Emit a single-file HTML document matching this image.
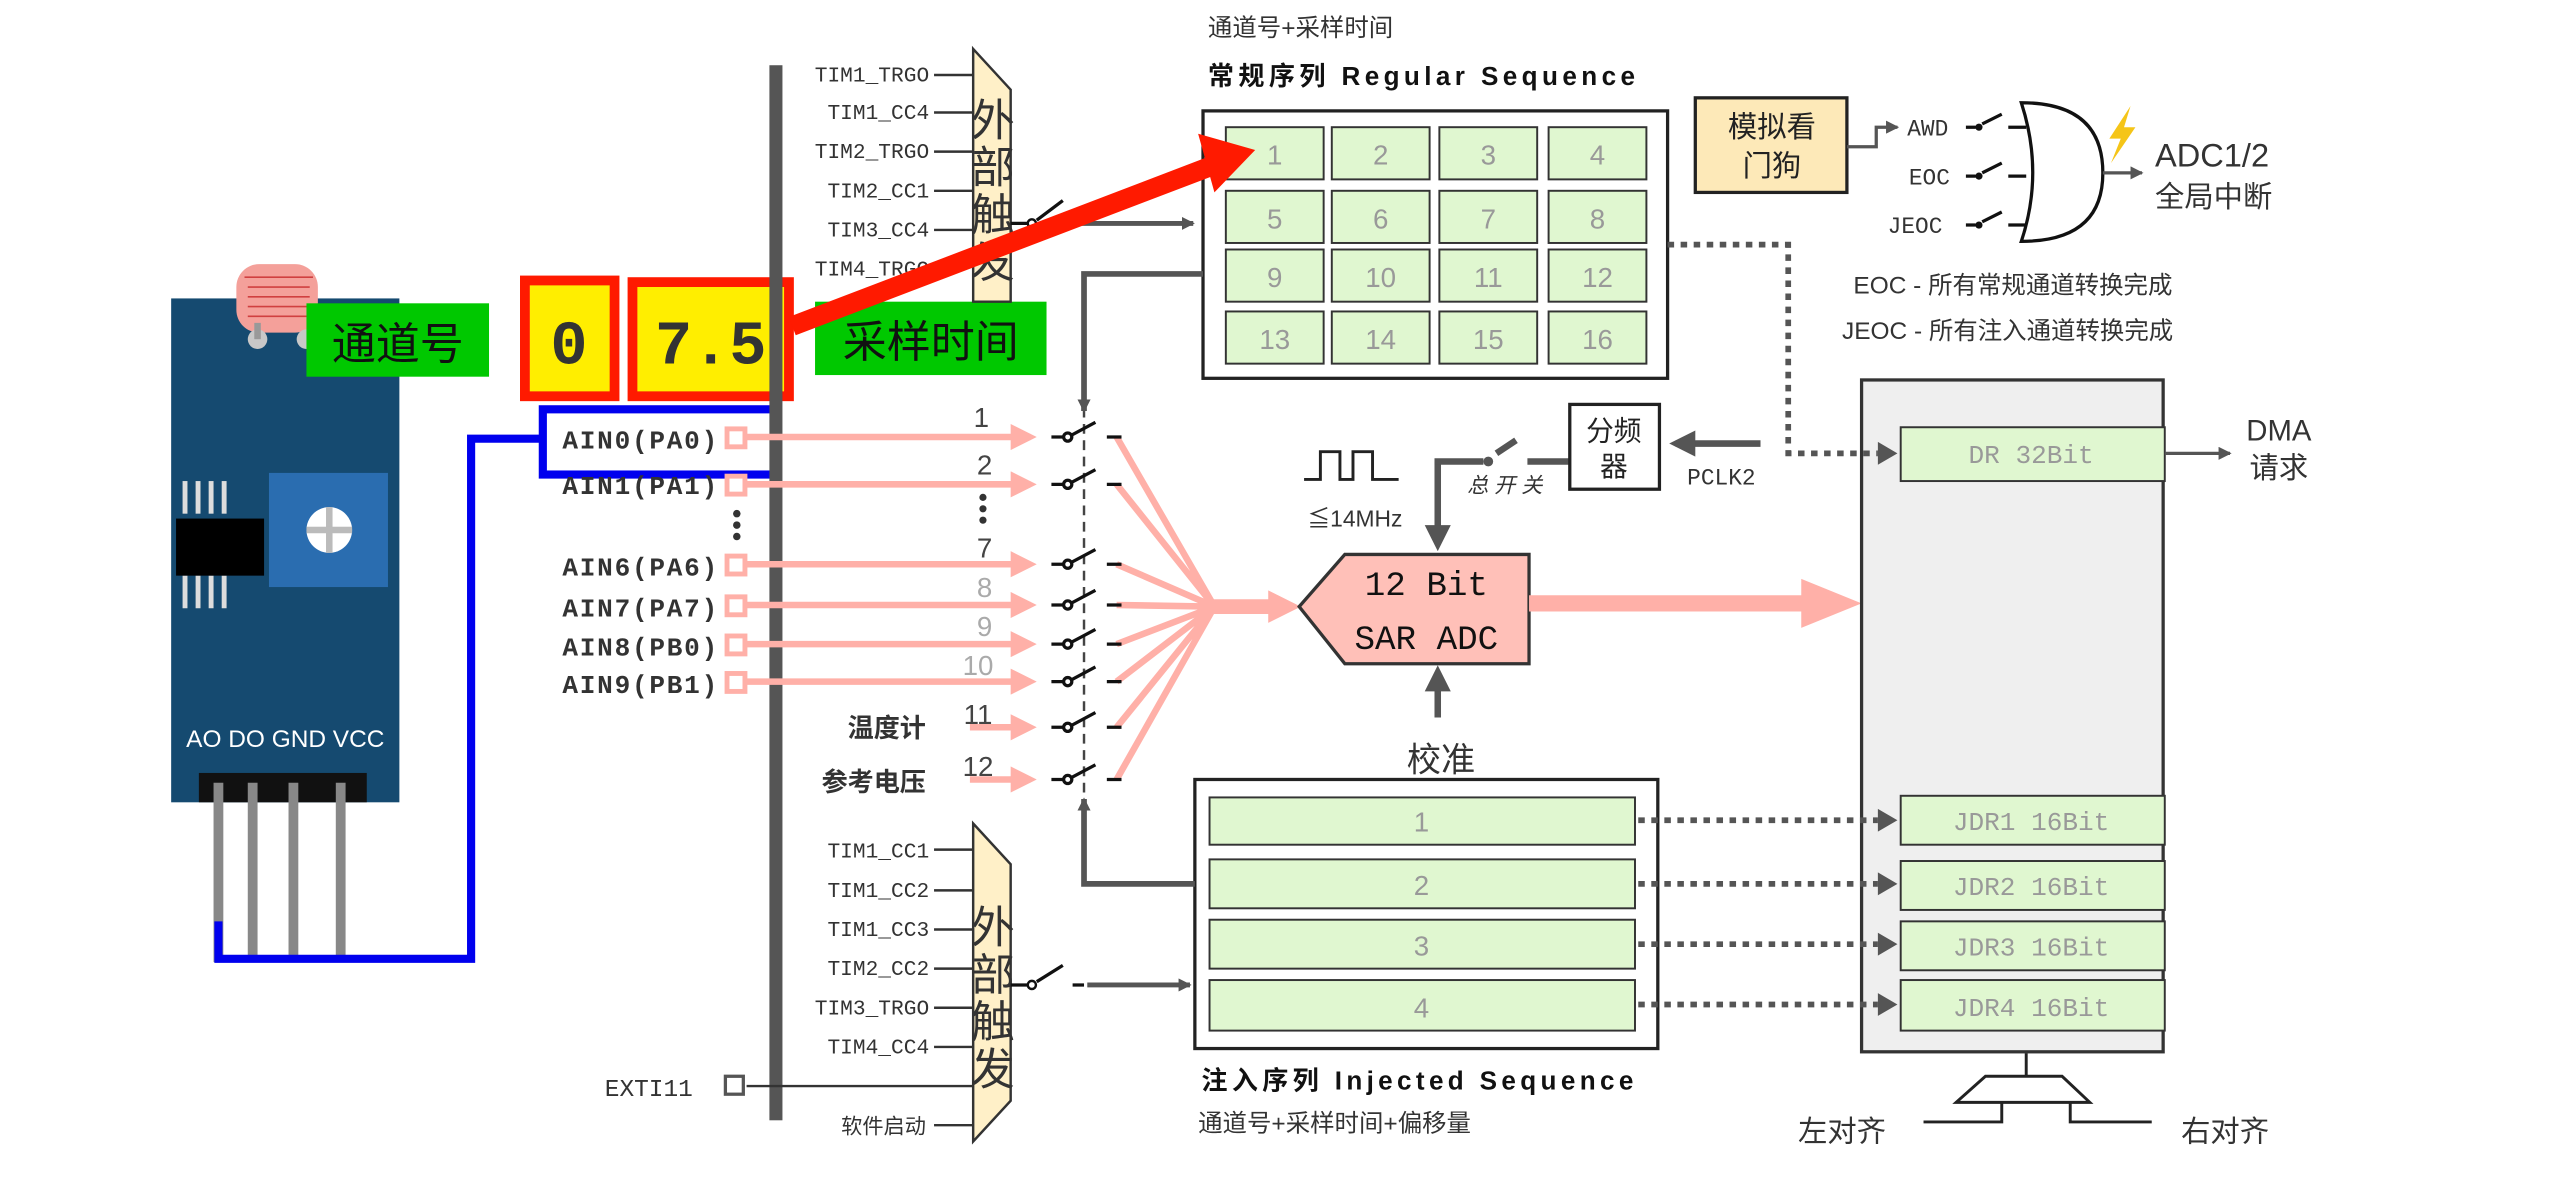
<!DOCTYPE html>
<html><head><meta charset="utf-8"><style>
html,body{margin:0;padding:0;background:#fff;}
svg{display:block;}
text{font-family:"Liberation Sans","Noto Sans CJK SC",sans-serif;}
.m, .m text{font-family:"Liberation Mono","Noto Sans CJK SC",monospace;}
</style></head><body>
<svg width="2556" height="1179" viewBox="0 0 1568 723" preserveAspectRatio="none" xmlns="http://www.w3.org/2000/svg">
<defs>
<marker id="ag" markerWidth="4" markerHeight="4" refX="3" refY="2" orient="auto" markerUnits="strokeWidth"><path d="M0,0L4,2L0,4z" fill="#555"/></marker>
<marker id="ag2" markerWidth="8" markerHeight="8" refX="7" refY="4" orient="auto" markerUnits="userSpaceOnUse"><path d="M0,0L8,4L0,8z" fill="#555"/></marker>
<marker id="ap" markerWidth="4" markerHeight="4" refX="3" refY="2" orient="auto" markerUnits="strokeWidth"><path d="M0,0L4,2L0,4z" fill="#ffb0a8"/></marker>
</defs>

<!-- sensor module -->
<rect x="105" y="183" width="140" height="309" fill="#154a70"/>
<rect x="145" y="162" width="50" height="42" rx="14" fill="#f4a09a"/>
<g stroke="#d04040" stroke-width="1" fill="none"><path d="M150,170h42M152,176h38M152,182h38M152,188h38M152,194h38"/></g>
<circle cx="158" cy="208" r="6" fill="#c8c8c8"/><rect x="156" y="198" width="4" height="10" fill="#999"/>
<circle cx="188" cy="208" r="6" fill="#c8c8c8"/>
<g fill="#ddd"><rect x="112" y="295" width="3" height="20"/><rect x="120" y="295" width="3" height="20"/><rect x="128" y="295" width="3" height="20"/><rect x="136" y="295" width="3" height="20"/>
<rect x="112" y="353" width="3" height="20"/><rect x="120" y="353" width="3" height="20"/><rect x="128" y="353" width="3" height="20"/><rect x="136" y="353" width="3" height="20"/></g>
<rect x="108" y="318" width="54" height="35" fill="#000"/>
<rect x="165" y="290" width="73" height="70" fill="#2a6db0"/>
<circle cx="202" cy="325" r="14" fill="#fff"/>
<rect x="200" y="311" width="4" height="28" fill="#bbb"/><rect x="188" y="323" width="28" height="4" fill="#bbb"/>
<text x="175" y="458" font-size="15" fill="#fff" text-anchor="middle">AO DO GND VCC</text>
<rect x="122" y="474" width="103" height="18" fill="#111"/>
<g fill="#888"><rect x="131" y="480" width="6" height="110"/><rect x="152" y="480" width="6" height="110"/><rect x="177" y="480" width="6" height="110"/><rect x="206" y="480" width="6" height="110"/></g>
<path d="M134,565V588H289V269H334" fill="none" stroke="#0000ee" stroke-width="5"/>

<!-- labels overlay -->
<rect x="188" y="186" width="112" height="45" fill="#00c800"/>
<text x="244" y="220" font-size="27" fill="#111" text-anchor="middle">通道号</text>
<rect x="322" y="172" width="55" height="71" fill="#ffee00" stroke="#ff1a00" stroke-width="6"/>
<text x="349" y="223" class="m" font-size="38" font-weight="bold" fill="#333" text-anchor="middle">0</text>
<rect x="388" y="173" width="96" height="70" fill="#ffee00" stroke="#ff1a00" stroke-width="6"/>
<text x="436" y="223" class="m" font-size="38" font-weight="bold" fill="#333" text-anchor="middle">7.5</text>
<rect x="500" y="185" width="142" height="45" fill="#00c800"/>
<text x="571" y="219" font-size="27" fill="#111" text-anchor="middle">采样时间</text>
<rect x="333" y="251" width="144" height="40" fill="none" stroke="#0000ee" stroke-width="5"/>

<!-- vertical bus -->
<rect x="472" y="40" width="8" height="647" fill="#555"/>

<!-- AIN labels -->
<g class="m" font-size="16" font-weight="bold" fill="#333">
<text x="345" y="275" textLength="95">AIN0(PA0)</text>
<text x="345" y="303" textLength="95">AIN1(PA1)</text>
<text x="345" y="353" textLength="95">AIN6(PA6)</text>
<text x="345" y="378" textLength="95">AIN7(PA7)</text>
<text x="345" y="402" textLength="95">AIN8(PB0)</text>
<text x="345" y="425" textLength="95">AIN9(PB1)</text>
</g>
<g fill="#333"><circle cx="452" cy="315" r="2.3"/><circle cx="452" cy="322" r="2.3"/><circle cx="452" cy="329" r="2.3"/></g>
<g fill="#fff" stroke="#ffb0a8" stroke-width="3">
<rect x="446" y="263" width="11" height="11"/><rect x="446" y="292" width="11" height="11"/><rect x="446" y="341" width="11" height="11"/><rect x="446" y="366" width="11" height="11"/><rect x="446" y="390" width="11" height="11"/><rect x="446" y="413" width="11" height="11"/>
</g>
<g stroke="#ffb0a8" stroke-width="4" fill="none" marker-end="url(#ap)">
<path d="M458,268H632"/><path d="M458,297H632"/><path d="M458,346H632"/><path d="M458,371H632"/><path d="M458,395H632"/><path d="M458,418H632"/><path d="M595,446H632"/><path d="M595,478H632"/>
</g>
<g font-size="17" text-anchor="middle"><text x="602" y="262" fill="#444">1</text><text x="604" y="291" fill="#444">2</text><text x="604" y="342" fill="#444">7</text><text x="604" y="366" fill="#aaa">8</text><text x="604" y="390" fill="#aaa">9</text><text x="600" y="414" fill="#aaa">10</text><text x="600" y="444" fill="#444">11</text><text x="600" y="476" fill="#444">12</text></g>
<g fill="#333"><circle cx="603" cy="305" r="2.2"/><circle cx="603" cy="312" r="2.2"/><circle cx="603" cy="319" r="2.2"/></g>
<text x="568" y="452" font-size="16" font-weight="bold" fill="#333" text-anchor="end">温度计</text>
<text x="568" y="485" font-size="16" font-weight="bold" fill="#333" text-anchor="end">参考电压</text>

<!-- fan -->
<g stroke="#ffb0a8" stroke-width="4" fill="none">
<path d="M685,268L745,372M685,297L745,372M685,346L745,372M685,371L745,372M685,395L745,372M685,418L745,372M685,446L745,372M685,478L745,372"/>
<path d="M740,372H780" stroke-width="9"/></g>
<path d="M778,362L798,372L778,382z" fill="#ffb0a8"/>
<path d="M665,240V490" stroke="#444" stroke-width="1.5" stroke-dasharray="6,4"/>
<g stroke="#111" stroke-width="2" fill="none">
<path d="M645,268H652M657,267L672,259M679,268H688"/><circle cx="655" cy="268" r="2.5" fill="#fff"/>
<path d="M645,297H652M657,296L672,288M679,297H688"/><circle cx="655" cy="297" r="2.5" fill="#fff"/>
<path d="M645,346H652M657,345L672,337M679,346H688"/><circle cx="655" cy="346" r="2.5" fill="#fff"/>
<path d="M645,371H652M657,370L672,362M679,371H688"/><circle cx="655" cy="371" r="2.5" fill="#fff"/>
<path d="M645,395H652M657,394L672,386M679,395H688"/><circle cx="655" cy="395" r="2.5" fill="#fff"/>
<path d="M645,418H652M657,417L672,409M679,418H688"/><circle cx="655" cy="418" r="2.5" fill="#fff"/>
<path d="M645,446H652M657,445L672,437M679,446H688"/><circle cx="655" cy="446" r="2.5" fill="#fff"/>
<path d="M645,478H652M657,477L672,469M679,478H688"/><circle cx="655" cy="478" r="2.5" fill="#fff"/>
</g>

<!-- ADC -->
<path d="M797,372L825,340H938V407H825z" fill="#ffc0b8" stroke="#333" stroke-width="2"/>
<text x="875" y="365" class="m" font-size="21" fill="#111" text-anchor="middle">12 Bit</text>
<text x="875" y="398" class="m" font-size="21" fill="#111" text-anchor="middle">SAR ADC</text>
<path d="M938,370H1110" stroke="#ffb0a8" stroke-width="10"/>
<path d="M1105,355L1142,370L1105,385z" fill="#ffb0a8"/>
<path d="M882,440V412" stroke="#555" stroke-width="4" marker-end="url(#ag)"/>
<text x="884" y="473" font-size="21" fill="#333" text-anchor="middle">校准</text>

<!-- clock -->
<path d="M800,294H810V277H822V294H830V277H842V294H858" fill="none" stroke="#222" stroke-width="1.8"/>
<text x="802" y="323" font-size="14" fill="#333">≦14MHz</text>
<path d="M882,283V334" stroke="#555" stroke-width="4" marker-end="url(#ag)"/>
<path d="M880,283H910M918,278L930,270M937,283H963" stroke="#555" stroke-width="4" fill="none"/>
<circle cx="913" cy="283" r="3" fill="#555"/>
<text x="900" y="302" font-size="13" fill="#333" font-style="italic">总 开 关</text>
<rect x="963" y="248" width="55" height="52" fill="#fff" stroke="#222" stroke-width="2"/>
<text x="990" y="270" font-size="17" fill="#222" text-anchor="middle">分频</text>
<text x="990" y="292" font-size="17" fill="#222" text-anchor="middle">器</text>
<path d="M1080,272H1028" stroke="#555" stroke-width="4" marker-end="url(#ag)"/>
<text x="1035" y="297" class="m" font-size="14" fill="#333">PCLK2</text>

<!-- top trigger -->
<path d="M597,30L620,55V185L597,185z" fill="#fff0c8" stroke="#333" stroke-width="1.5"/>
<g font-size="27" fill="#333" text-anchor="middle"><text x="609" y="83">外</text><text x="609" y="112">部</text><text x="609" y="141">触</text><text x="609" y="170">发</text></g>
<g class="m" font-size="13" fill="#333" text-anchor="end">
<text x="570" y="50">TIM1_TRGO</text><text x="570" y="73">TIM1_CC4</text><text x="570" y="97">TIM2_TRGO</text><text x="570" y="121">TIM2_CC1</text><text x="570" y="145">TIM3_CC4</text><text x="570" y="169">TIM4_TRGO</text></g>
<g stroke="#333" stroke-width="1.5"><path d="M573,46H597M573,69H597M573,93H597M573,117H597M573,141H597"/></g>
<path d="M620,137H630M636,135L652,123M655,137H660" stroke="#111" stroke-width="2" fill="none"/>
<circle cx="633" cy="137" r="2.5" fill="#fff" stroke="#111" stroke-width="1.5"/>
<path d="M662,137H732" stroke="#555" stroke-width="3" marker-end="url(#ag2)"/>

<!-- bottom trigger -->
<path d="M597,505L620,530V675L597,700z" fill="#fff0c8" stroke="#333" stroke-width="1.5"/>
<g font-size="27" fill="#333" text-anchor="middle"><text x="609" y="578">外</text><text x="609" y="607">部</text><text x="609" y="636">触</text><text x="609" y="665">发</text></g>
<g class="m" font-size="13" fill="#333" text-anchor="end">
<text x="570" y="526">TIM1_CC1</text><text x="570" y="550">TIM1_CC2</text><text x="570" y="574">TIM1_CC3</text><text x="570" y="598">TIM2_CC2</text><text x="570" y="622">TIM3_TRGO</text><text x="570" y="646">TIM4_CC4</text></g>
<g stroke="#333" stroke-width="1.5"><path d="M573,521H597M573,546H597M573,570H597M573,594H597M573,618H597M573,642H597M458,666H597M573,690H597"/></g>
<text x="425" y="672" class="m" font-size="15" fill="#333" text-anchor="end">EXTI11</text>
<rect x="445" y="660" width="11" height="11" fill="#fff" stroke="#555" stroke-width="2"/>
<text x="568" y="695" font-size="13" fill="#333" text-anchor="end">软件启动</text>
<path d="M620,604H630M636,602L652,592M658,604H665" stroke="#111" stroke-width="2" fill="none"/>
<circle cx="633" cy="604" r="2.5" fill="#fff" stroke="#111" stroke-width="1.5"/>
<path d="M667,604H730" stroke="#555" stroke-width="3" marker-end="url(#ag2)"/>

<!-- regular sequence -->
<text x="741" y="22" font-size="15" fill="#333">通道号+采样时间</text>
<text x="741" y="52" font-size="16" font-weight="bold" fill="#111" textLength="262">常规序列 Regular Sequence</text>
<rect x="738" y="68" width="285" height="164" fill="#fff" stroke="#222" stroke-width="2"/>
<g fill="#e0f7d0" stroke="#333" stroke-width="1.2">
<rect x="752" y="78" width="60" height="32"/><rect x="817" y="78" width="60" height="32"/><rect x="883" y="78" width="60" height="32"/><rect x="950" y="78" width="60" height="32"/>
<rect x="752" y="117" width="60" height="32"/><rect x="817" y="117" width="60" height="32"/><rect x="883" y="117" width="60" height="32"/><rect x="950" y="117" width="60" height="32"/>
<rect x="752" y="153" width="60" height="32"/><rect x="817" y="153" width="60" height="32"/><rect x="883" y="153" width="60" height="32"/><rect x="950" y="153" width="60" height="32"/>
<rect x="752" y="191" width="60" height="32"/><rect x="817" y="191" width="60" height="32"/><rect x="883" y="191" width="60" height="32"/><rect x="950" y="191" width="60" height="32"/>
</g>
<g font-size="17" fill="#999" text-anchor="middle">
<text x="782" y="101">1</text><text x="847" y="101">2</text><text x="913" y="101">3</text><text x="980" y="101">4</text>
<text x="782" y="140">5</text><text x="847" y="140">6</text><text x="913" y="140">7</text><text x="980" y="140">8</text>
<text x="782" y="176">9</text><text x="847" y="176">10</text><text x="913" y="176">11</text><text x="980" y="176">12</text>
<text x="782" y="214">13</text><text x="847" y="214">14</text><text x="913" y="214">15</text><text x="980" y="214">16</text>
</g>
<path d="M738,168H665V252" stroke="#555" stroke-width="3.5" fill="none" marker-end="url(#ag2)"/>

<!-- red arrow -->
<path d="M486,200L748,100" stroke="#ff1a00" stroke-width="12"/>
<path d="M735,82L770,92L745,118z" fill="#ff1a00"/>

<!-- injected sequence -->
<rect x="733" y="478" width="284" height="165" fill="#fff" stroke="#222" stroke-width="2"/>
<g fill="#e0f7d0" stroke="#333" stroke-width="1.2">
<rect x="742" y="489" width="261" height="29"/><rect x="742" y="527" width="261" height="30"/><rect x="742" y="564" width="261" height="30"/><rect x="742" y="601" width="261" height="31"/></g>
<g font-size="17" fill="#999" text-anchor="middle"><text x="872" y="510">1</text><text x="872" y="549">2</text><text x="872" y="586">3</text><text x="872" y="624">4</text></g>
<path d="M733,542H665V490" stroke="#555" stroke-width="3.5" fill="none" marker-end="url(#ag2)"/>
<text x="737" y="668" font-size="16" font-weight="bold" fill="#111" textLength="265">注入序列 Injected Sequence</text>
<text x="735" y="694" font-size="15" fill="#333">通道号+采样时间+偏移量</text>

<!-- data registers -->
<rect x="1142" y="233" width="185" height="412" fill="#efefef" stroke="#333" stroke-width="2"/>
<g fill="#e0f7d0" stroke="#333" stroke-width="1.2">
<rect x="1166" y="262" width="162" height="33"/><rect x="1166" y="488" width="162" height="30"/><rect x="1166" y="528" width="162" height="30"/><rect x="1166" y="565" width="162" height="30"/><rect x="1166" y="601" width="162" height="31"/></g>
<g class="m" font-size="16" fill="#999" text-anchor="middle">
<text x="1246" y="284">DR 32Bit</text><text x="1246" y="509">JDR1 16Bit</text><text x="1246" y="549">JDR2 16Bit</text><text x="1246" y="586">JDR3 16Bit</text><text x="1246" y="623">JDR4 16Bit</text></g>
<g stroke="#555" stroke-width="3.5" stroke-dasharray="4,4" fill="none">
<path d="M1023,150H1097V278H1152"/><path d="M1005,503H1152"/><path d="M1005,542H1152"/><path d="M1005,579H1152"/><path d="M1005,616H1152"/></g>
<g fill="#555"><path d="M1152,271L1164,278L1152,285z"/><path d="M1152,496L1164,503L1152,510z"/><path d="M1152,535L1164,542L1152,549z"/><path d="M1152,572L1164,579L1152,586z"/><path d="M1152,609L1164,616L1152,623z"/></g>
<path d="M1328,278H1368" stroke="#555" stroke-width="2" marker-end="url(#ag2)"/>
<text x="1378" y="270" font-size="18" fill="#333">DMA</text>
<text x="1380" y="293" font-size="18" fill="#333">请求</text>

<!-- alignment mux -->
<path d="M1243,646V660M1218,660H1265L1282,676H1200z" fill="none" stroke="#222" stroke-width="1.8"/>
<path d="M1228,676V688H1180M1270,676V688H1320" fill="none" stroke="#222" stroke-width="1.8"/>
<text x="1130" y="700" font-size="18" fill="#333" text-anchor="middle">左对齐</text>
<text x="1365" y="700" font-size="18" fill="#333" text-anchor="middle">右对齐</text>

<!-- watchdog & interrupts -->
<rect x="1040" y="60" width="93" height="58" fill="#fde9b8" stroke="#222" stroke-width="2"/>
<text x="1087" y="84" font-size="18" fill="#222" text-anchor="middle">模拟看</text>
<text x="1087" y="108" font-size="18" fill="#222" text-anchor="middle">门狗</text>
<path d="M1133,90H1151V78H1164" stroke="#555" stroke-width="2" fill="none" marker-end="url(#ag2)"/>
<g class="m" font-size="14" fill="#333"><text x="1170" y="83">AWD</text><text x="1171" y="113">EOC</text><text x="1158" y="143">JEOC</text></g>
<g stroke="#111" stroke-width="2" fill="none">
<path d="M1206,78H1212M1216,76L1228,70M1232,78H1243"/><path d="M1206,108H1212M1216,106L1228,100M1232,108H1243"/><path d="M1206,138H1212M1216,136L1228,130M1232,138H1243"/>
<path d="M1240,63Q1290,63 1290,106Q1290,148 1240,148Q1254,106 1240,63z"/></g>
<circle cx="1214" cy="78" r="2.2" fill="#111"/><circle cx="1214" cy="108" r="2.2" fill="#111"/><circle cx="1214" cy="138" r="2.2" fill="#111"/>
<path d="M1290,106H1314" stroke="#555" stroke-width="2" marker-end="url(#ag2)"/>
<path d="M1307,65L1294,85L1301,85L1295,100L1310,78L1303,78z" fill="#f5c518"/>
<text x="1322" y="102" font-size="20" fill="#333">ADC1/2</text>
<text x="1322" y="127" font-size="18" fill="#333">全局中断</text>
<text x="1137" y="180" font-size="15" fill="#333">EOC - 所有常规通道转换完成</text>
<text x="1130" y="208" font-size="15" fill="#333">JEOC - 所有注入通道转换完成</text>
</svg>
</body></html>
